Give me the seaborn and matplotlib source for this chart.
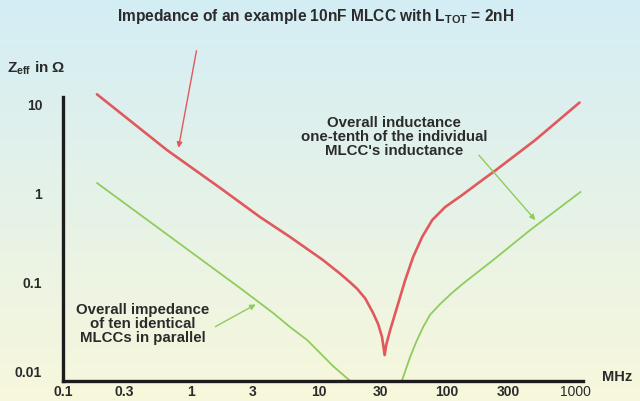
import numpy as np
import pandas as pd
import seaborn as sns
import matplotlib.pyplot as plt

#--> plot style
sns.set_theme(style="white")
plt.rcParams['font.family'] = ['Liberation Sans', 'DejaVu Sans']
plt.rcParams['mathtext.fontset'] = 'custom'
plt.rcParams['mathtext.rm'] = 'Liberation Sans'
plt.rcParams['mathtext.bf'] = 'Liberation Sans:bold'

# single 10nF MLCC
red_freq = [0.184, 0.649, 1.69, 3.46, 5.93, 10.7, 14.6, 17.5, 19.8, 22.9, 26.4, 28.9, 31.0, 32.5,
            33.4, 35.9, 40.0, 47.0, 54.2, 63.8, 76.4, 96.5, 131, 188, 240, 487, 1080]
red_z = [12.9, 3.04, 1.14, 0.537, 0.321, 0.177, 0.124, 0.099, 0.084, 0.0655, 0.0449, 0.0337, 0.0241, 0.0151,
         0.0196, 0.0289, 0.0485, 0.105, 0.191, 0.321, 0.497, 0.697, 0.950, 1.40, 1.81, 3.94, 10.4]

# ten MLCCs in parallel
green_left_freq = [0.184, 2.41, 4.37, 5.93, 8.06, 12.9, 17.5, 19.5]
green_left_z = [1.30, 0.0857, 0.0449, 0.0312, 0.0223, 0.0113, 0.00772, 0.0066]
green_right_freq = [42.2, 44.5, 51.4, 57.3, 64.9, 73.6, 88.1, 108, 133, 229, 445, 1100]
green_right_z = [0.0065, 0.00792, 0.0144, 0.0212, 0.0312, 0.0430, 0.0565, 0.0745, 0.0960, 0.177, 0.384, 1.03]

x_ticks = [0.1, 0.3, 1, 3, 10, 30, 100, 300, 1000]
x_labels = ['0.1', '0.3', '1', '3', '10', '30', '100', '300', '1000']
y_ticks = [0.01, 0.1, 1, 10]
y_labels = ['0.01', '0.1', '1', '10']

RED = '#e0595d'
GREEN = '#8fcc5c'
TXT = '#2b2b2b'

fig = plt.figure(figsize=(6.4, 4.01), dpi=100)

# background gradient (light blue -> light yellow)
bg = fig.add_axes([0, 0, 1, 1], zorder=-1)
top = np.array([0.83, 0.93, 0.96])
bot = np.array([0.97, 0.97, 0.86])
t = np.linspace(0, 1, 256)[:, None]
grad = (top * (1 - t) + bot * t)[:, None, :]
bg.imshow(grad, aspect='auto', extent=[0, 1, 0, 1])
bg.axis('off')

ax = fig.add_axes([63 / 640, 20 / 401, 520 / 640, 291 / 401])
ax.set_facecolor('none')

line_kw = dict(ax=ax, sort=False, estimator=None, solid_joinstyle='round', solid_capstyle='round')
sns.lineplot(x=red_freq, y=red_z, color=RED, linewidth=1.9, **line_kw)
sns.lineplot(x=green_left_freq, y=green_left_z, color=GREEN, linewidth=1.3, **line_kw)
sns.lineplot(x=green_right_freq, y=green_right_z, color=GREEN, linewidth=1.3, **line_kw)

ax.set_xscale('log')
ax.set_yscale('log')
ax.set_xlim(0.1, 1150)
ax.set_ylim(0.00772, 14.4)
ax.set_xticks(x_ticks)
ax.set_xticklabels(x_labels)
ax.set_yticks(y_ticks)
ax.set_yticklabels(y_labels)
ax.minorticks_off()
ax.tick_params(axis='x', length=0, pad=3, labelsize=10, labelcolor=TXT)
ax.tick_params(axis='y', length=0, pad=15, labelsize=10, labelcolor=TXT)
for lab in ax.get_xticklabels() + ax.get_yticklabels():
    lab.set_fontweight('bold')
ax.get_xticklabels()[-1].set_fontweight('normal')

for s in ['top', 'right']:
    ax.spines[s].set_visible(False)
for s in ['left', 'bottom']:
    ax.spines[s].set_color('#1c1c1c')
    ax.spines[s].set_linewidth(2.4)
ax.spines['left'].set_bounds(0.00772, 12)
ax.grid(False)

# texts (positions in figure pixels, y from top)
def px(x, y):
    return (x / 640, 1 - y / 401)

fig.text(*px(316, 17), r'Impedance of an example 10nF MLCC with $\mathbf{L_{TOT}}$ = 2nH',
         ha='center', va='center', fontsize=11.2, fontweight='bold', color=TXT)
fig.text(*px(7, 68), r'$\mathbf{Z_{eff}}$ in $\mathbf{\Omega}$',
         ha='left', va='center', fontsize=11, fontweight='bold', color=TXT)
fig.text(*px(602, 377), 'MHz', ha='left', va='center', fontsize=10.5,
         fontweight='bold', color=TXT)
fig.text(*px(394, 137), "Overall inductance\none-tenth of the individual\nMLCC's inductance",
         ha='center', va='center', fontsize=10.8, fontweight='bold', color=TXT, linespacing=1.0)
fig.text(*px(143, 324), 'Overall impedance\nof ten identical\nMLCCs in parallel',
         ha='center', va='center', fontsize=10.8, fontweight='bold', color=TXT, linespacing=1.0)

# arrows
ax.annotate('', xy=(0.79, 3.0), xytext=px(197, 48), textcoords='figure fraction',
            annotation_clip=False,
            arrowprops=dict(arrowstyle='-|>', color=RED, lw=1.0, mutation_scale=8))
ax.annotate('', xy=(505, 0.47), xytext=px(477, 153), textcoords='figure fraction',
            annotation_clip=False,
            arrowprops=dict(arrowstyle='-|>', color=GREEN, lw=1.0, mutation_scale=8))
ax.annotate('', xy=(3.34, 0.058), xytext=px(213, 328), textcoords='figure fraction',
            annotation_clip=False,
            arrowprops=dict(arrowstyle='-|>', color=GREEN, lw=1.0, mutation_scale=8))

fig.savefig('out.png', dpi=100)
